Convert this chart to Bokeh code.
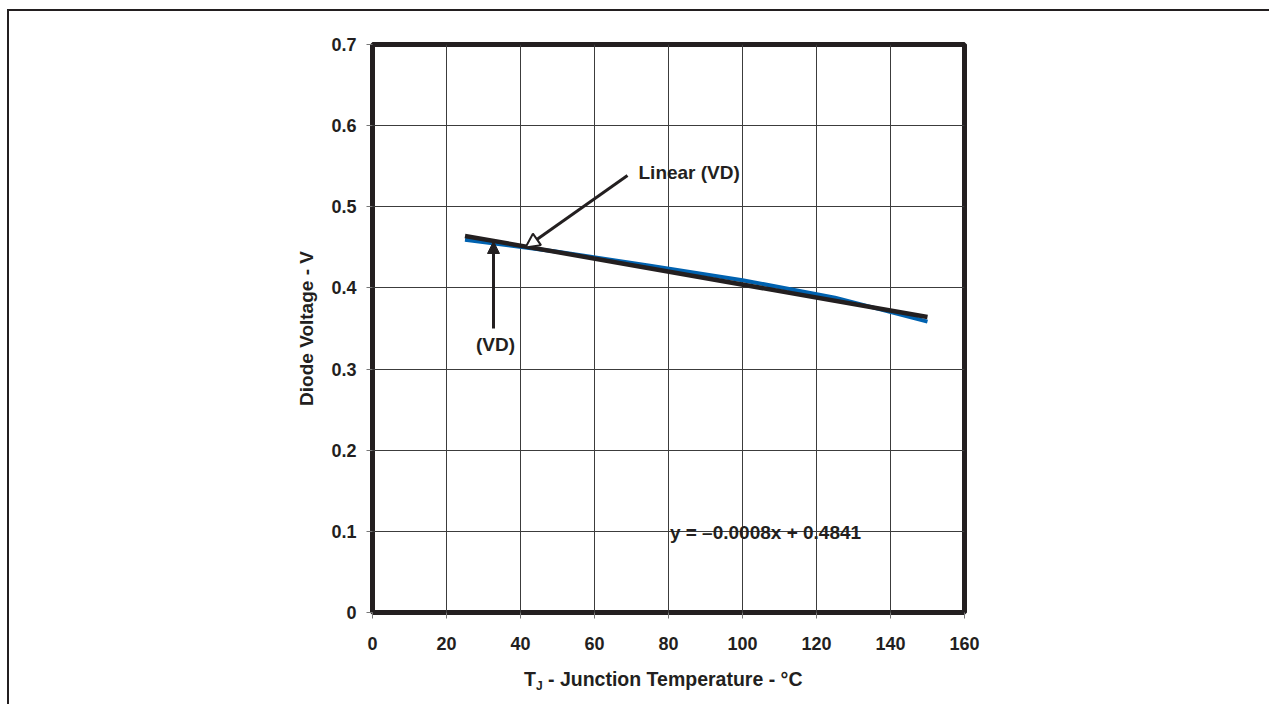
from bokeh.plotting import figure
from bokeh.layouts import column
from bokeh.models import FixedTicker, Label, Arrow, NormalHead, ColumnDataSource, Div
from bokeh.embed import file_html
from bokeh.resources import INLINE

# ---- data ----
temps = [25, 50, 75, 100, 125, 150]
vd = [0.4595, 0.4445, 0.4275, 0.4095, 0.388, 0.3585]
trend_x = [25, 150]
trend_y = [0.4641, 0.3641]
x_ticks = [0, 20, 40, 60, 80, 100, 120, 140, 160]
y_ticks = [0, 0.1, 0.2, 0.3, 0.4, 0.5, 0.6, 0.7]
y_tick_labels = ["0", "0.1", "0.2", "0.3", "0.4", "0.5", "0.6", "0.7"]
equation = "y = \u20130.0008x + 0.4841"
x_title_main, x_title_sub, x_title_rest = "T", "J", " - Junction Temperature - \u00b0C"

INK = "#231f20"
FONT = "Liberation Sans"

p = figure(width=1259, height=652, x_range=(0, 160), y_range=(0, 0.7),
           output_backend="svg", toolbar_location=None,
           min_border_left=363, min_border_top=33, min_border_right=304, min_border_bottom=51)

p.outline_line_color = INK
p.outline_line_width = 5
p.background_fill_color = "white"
p.border_fill_color = "white"

for ax in (p.xaxis, p.yaxis):
    ax.axis_line_color = None
    ax.major_tick_line_color = "#777777"
    ax.major_tick_out = 6
    ax.major_tick_in = 0
    ax.minor_tick_line_color = None
    ax.major_label_text_font = FONT
    ax.major_label_text_font_style = "bold"
    ax.major_label_text_font_size = "18px"
    ax.major_label_text_color = INK

p.xaxis.ticker = FixedTicker(ticks=x_ticks)
p.yaxis.ticker = FixedTicker(ticks=y_ticks)
p.yaxis.major_label_overrides = dict(zip(y_ticks, y_tick_labels))
p.xaxis.major_label_standoff = 18
p.yaxis.major_label_standoff = 10

p.yaxis.axis_label = "Diode Voltage - V"
p.yaxis.axis_label_text_font = FONT
p.yaxis.axis_label_text_font_style = "bold"
p.yaxis.axis_label_text_font_size = "19px"
p.yaxis.axis_label_text_color = INK
p.yaxis.axis_label_standoff = 11

p.grid.grid_line_color = "#3c3c3c"
p.grid.grid_line_width = 1
p.xgrid.ticker = FixedTicker(ticks=x_ticks)
p.ygrid.ticker = FixedTicker(ticks=y_ticks)

src = ColumnDataSource(dict(x=temps, y=vd))
p.line("x", "y", source=src, line_color="#0062b0", line_width=4)
p.line(trend_x, trend_y, line_color=INK, line_width=4.5)

# annotations (positions converted from picture pixels into data units)
def dx(px):
    return (px - 372) / 74.0 * 20

def dy(py):
    return (612 - py) / 811.4

def lab(text, x, y, size="19px", align="left", baseline="middle"):
    p.add_layout(Label(x=x, y=y, text=text, text_font=FONT, text_font_style="bold",
                       text_font_size=size, text_color=INK, text_align=align,
                       text_baseline=baseline))

p.add_layout(Arrow(x_start=dx(627), y_start=dy(175), x_end=dx(525), y_end=dy(247),
                   line_color=INK, line_width=3,
                   end=NormalHead(size=14, fill_color="white", line_color=INK, line_width=2)))
p.add_layout(Arrow(x_start=dx(493), y_start=dy(328), x_end=dx(493), y_end=dy(241),
                   line_color=INK, line_width=3,
                   end=NormalHead(size=12, fill_color=INK, line_color=INK, line_width=1)))

lab("Linear (VD)", dx(638), dy(172))
lab("(VD)", dx(495), dy(344), align="center")
lab(equation, dx(765), dy(532), align="center")

# x-axis title with a real subscript
xtitle = Div(
    text=('<div style="margin-left:510px;font-family:\'Liberation Sans\';font-weight:bold;'
          'font-size:19.5px;line-height:22px;color:#231f20;white-space:nowrap">'
          f'{x_title_main}<span style="font-size:12px;position:relative;top:4px">{x_title_sub}</span>'
          f'{x_title_rest}</div>'),
    width=1259, height=41)

layout = column(p, xtitle, spacing=0,
                styles={"margin-left": "7px", "margin-top": "9px",
                        "border-left": "2px solid #231f20", "border-top": "2px solid #231f20",
                        "border-right": "1px solid #c8c8c8", "background-color": "white"})

open("out.html", "w").write(file_html(layout, INLINE))
